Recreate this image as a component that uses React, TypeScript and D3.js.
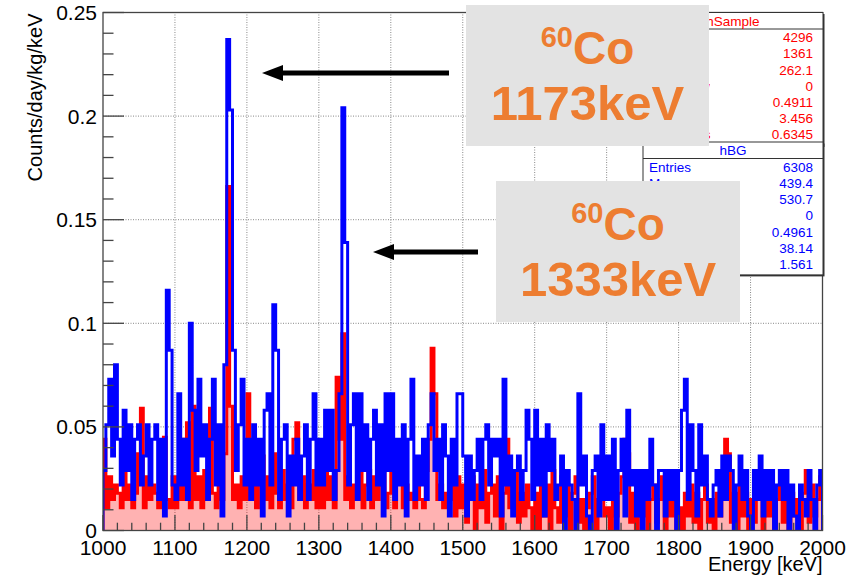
import React from "react";
import * as d3 from "d3";

const W = 846;
const H = 577;

// Energy binning of both spectra (lower bin edges, keV)
const energyMin = 1000;
const energyMax = 2000;
const binWidth = 4;
const binEdges = d3.range(energyMin, energyMax, binWidth);

// Background spectrum hBG, counts/day/kg/keV, one row per 100 keV
const hBG = [
  0.029, 0.051, 0.073, 0.036, 0.080, 0.044, 0.022, 0.058, 0.029, 0.051, 0.015, 0.044, 0.051, 0.022, 0.036, 0.051, 0.022, 0.044, 0.051, 0.015, 0.044, 0.007, 0.116, 0.087, 0.022,
  0.015, 0.066, 0.022, 0.044, 0.015, 0.100, 0.058, 0.029, 0.073, 0.036, 0.051, 0.015, 0.044, 0.073, 0.022, 0.051, 0.007, 0.080, 0.237, 0.203, 0.087, 0.029, 0.051, 0.073, 0.022,
  0.044, 0.015, 0.051, 0.022, 0.044, 0.007, 0.058, 0.066, 0.022, 0.109, 0.087, 0.015, 0.044, 0.051, 0.007, 0.036, 0.022, 0.044, 0.015, 0.036, 0.051, 0.015, 0.044, 0.066, 0.022,
  0.044, 0.022, 0.058, 0.029, 0.058, 0.015, 0.029, 0.066, 0.204, 0.139, 0.022, 0.051, 0.066, 0.015, 0.066, 0.029, 0.051, 0.015, 0.044, 0.058, 0.022, 0.051, 0.007, 0.066, 0.029,
  0.066, 0.015, 0.044, 0.022, 0.051, 0.007, 0.044, 0.073, 0.015, 0.036, 0.022, 0.044, 0.015, 0.051, 0.066, 0.029, 0.044, 0.015, 0.051, 0.036, 0.007, 0.044, 0.022, 0.066, 0.066,
  0.036, 0.007, 0.036, 0.015, 0.029, 0.044, 0.015, 0.044, 0.051, 0.022, 0.044, 0.036, 0.044, 0.007, 0.073, 0.022, 0.036, 0.007, 0.029, 0.036, 0.015, 0.029, 0.058, 0.044, 0.015,
  0.058, 0.022, 0.044, 0.007, 0.051, 0.029, 0.044, 0.015, 0.022, 0.036, 0.000, 0.029, 0.022, 0.015, 0.000, 0.066, 0.022, 0.036, 0.007, 0.000, 0.029, 0.036, 0.007, 0.051, 0.015,
  0.036, 0.015, 0.044, 0.000, 0.029, 0.044, 0.007, 0.058, 0.022, 0.029, 0.007, 0.029, 0.000, 0.029, 0.015, 0.044, 0.022, 0.000, 0.029, 0.029, 0.007, 0.029, 0.015, 0.029, 0.000,
  0.029, 0.058, 0.073, 0.015, 0.051, 0.029, 0.007, 0.051, 0.022, 0.036, 0.015, 0.007, 0.022, 0.029, 0.007, 0.036, 0.015, 0.036, 0.029, 0.000, 0.022, 0.036, 0.015, 0.029, 0.007,
  0.000, 0.029, 0.015, 0.036, 0.007, 0.029, 0.015, 0.029, 0.000, 0.022, 0.029, 0.015, 0.029, 0.000, 0.022, 0.007, 0.000, 0.022, 0.015, 0.007, 0.029, 0.015, 0.000, 0.022, 0.029,
];

// Sample spectrum hSample, counts/day/kg/keV, one row per 100 keV
const hSample = [
  0.044, 0.011, 0.026, 0.015, 0.022, 0.018, 0.011, 0.029, 0.015, 0.022, 0.011, 0.018, 0.037, 0.059, 0.011, 0.026, 0.015, 0.022, 0.018, 0.011, 0.026, 0.045, 0.015, 0.011, 0.026,
  0.011, 0.026, 0.015, 0.044, 0.052, 0.011, 0.060, 0.015, 0.026, 0.011, 0.029, 0.015, 0.059, 0.018, 0.011, 0.026, 0.015, 0.037, 0.166, 0.060, 0.015, 0.022, 0.011, 0.026, 0.015,
  0.066, 0.015, 0.026, 0.011, 0.029, 0.036, 0.015, 0.026, 0.011, 0.037, 0.018, 0.011, 0.029, 0.015, 0.022, 0.011, 0.044, 0.052, 0.015, 0.026, 0.011, 0.022, 0.015, 0.029, 0.011,
  0.022, 0.011, 0.029, 0.015, 0.026, 0.011, 0.074, 0.044, 0.095, 0.015, 0.026, 0.011, 0.022, 0.015, 0.037, 0.011, 0.022, 0.029, 0.011, 0.026, 0.015, 0.022, 0.044, 0.011, 0.018,
  0.029, 0.011, 0.026, 0.037, 0.011, 0.022, 0.015, 0.018, 0.011, 0.026, 0.015, 0.011, 0.029, 0.044, 0.088, 0.066, 0.015, 0.022, 0.011, 0.018, 0.015, 0.022, 0.007, 0.026, 0.011,
  0.022, 0.004, 0.018, 0.026, 0.000, 0.022, 0.011, 0.029, 0.004, 0.018, 0.022, 0.007, 0.026, 0.000, 0.018, 0.044, 0.011, 0.022, 0.029, 0.004, 0.018, 0.007, 0.022, 0.011, 0.000,
  0.018, 0.000, 0.026, 0.007, 0.022, 0.000, 0.029, 0.011, 0.004, 0.026, 0.007, 0.022, 0.000, 0.018, 0.026, 0.004, 0.015, 0.000, 0.011, 0.018, 0.026, 0.000, 0.015, 0.029, 0.007,
  0.011, 0.000, 0.022, 0.007, 0.018, 0.026, 0.044, 0.037, 0.004, 0.018, 0.000, 0.015, 0.007, 0.022, 0.000, 0.015, 0.022, 0.004, 0.015, 0.026, 0.000, 0.018, 0.007, 0.015, 0.000,
  0.011, 0.000, 0.018, 0.007, 0.022, 0.004, 0.018, 0.000, 0.015, 0.022, 0.004, 0.015, 0.000, 0.018, 0.007, 0.022, 0.044, 0.037, 0.004, 0.018, 0.000, 0.022, 0.007, 0.018, 0.000,
  0.015, 0.004, 0.018, 0.022, 0.000, 0.015, 0.007, 0.018, 0.000, 0.015, 0.022, 0.004, 0.015, 0.000, 0.018, 0.007, 0.015, 0.000, 0.018, 0.029, 0.004, 0.022, 0.007, 0.015, 0.026,
];

// Axis ticks
const xMajorTicks = [1000, 1100, 1200, 1300, 1400, 1500, 1600, 1700, 1800, 1900, 2000];
const xMinorStep = 20;
const yMajorTicks = [0, 0.05, 0.1, 0.15, 0.2, 0.25];
const yTickLabels = ["0", "0.05", "0.1", "0.15", "0.2", "0.25"];
const yMinorStep = 0.01;

const xTitle = "Energy [keV]";
const yTitle = "Counts/day/kg/keV";

// Statistics boxes
const statLabels = ["Entries", "Mean", "Std Dev", "Underflow", "Overflow", "Integral", "Skewness"];
const sampleName = "hSample";
const sampleStats = ["4296", "1361", "262.1", "0", "0.4911", "3.456", "0.6345"];
const bgName = "hBG";
const bgStats = ["6308", "439.4", "530.7", "0", "0.4961", "38.14", "1.561"];

// Peak annotations
const peakIsotope = ["60", "60"];
const peakElement = ["Co", "Co"];
const peakEnergyText = ["1173keV", "1333keV"];

const FONT = "'Liberation Sans', Arial, Helvetica, sans-serif";
const ORANGE = "#ED7D31";

const x = d3.scaleLinear().domain([energyMin, energyMax]).range([103, 822.5]);
const y = d3.scaleLinear().domain([0, 0.25]).range([530.5, 12.5]);

type Pt = [number, number];

function stepPoints(vals: number[]): Pt[] {
  const pts: Pt[] = [[energyMin, 0]];
  vals.forEach((v, i) => pts.push([binEdges[i], v]));
  pts.push([energyMax, vals[vals.length - 1]]);
  pts.push([energyMax, 0]);
  return pts;
}

const stepLine = d3
  .line<Pt>()
  .x((d) => x(d[0]))
  .y((d) => y(d[1]))
  .curve(d3.curveStepAfter);

const stepArea = d3
  .area<Pt>()
  .x((d) => x(d[0]))
  .y0(y(0))
  .y1((d) => y(d[1]))
  .curve(d3.curveStepAfter);

function StatBox(props: {
  top: number;
  name: string;
  values: string[];
  color: string;
}) {
  const left = 643;
  const right = 823;
  const titleH = 16.5;
  const rowH = 16.2;
  const h = titleH + rowH * props.values.length + 3;
  return (
    <g fontFamily={FONT} fontSize={13.5}>
      <rect x={left + 1.5} y={props.top + 1.5} width={right - left} height={h} fill="#333" />
      <rect x={left} y={props.top} width={right - left} height={h} fill="#fff" stroke="#333" strokeWidth={1} />
      <line x1={left} x2={right} y1={props.top + titleH} y2={props.top + titleH} stroke="#333" strokeWidth={1} />
      <text x={(left + right) / 2} y={props.top + titleH - 3.5} textAnchor="middle" fill={props.color}>
        {props.name}
      </text>
      {props.values.map((v, i) => (
        <g key={i}>
          <text x={left + 6} y={props.top + titleH + rowH * (i + 1) - 3} fill={props.color}>
            {statLabels[i]}
          </text>
          <text x={right - 10} y={props.top + titleH + rowH * (i + 1) - 3} textAnchor="end" fill={props.color}>
            {v}
          </text>
        </g>
      ))}
    </g>
  );
}

function PeakLabel(props: { i: number; left: number; top: number; width: number; height: number }) {
  const cx = props.left + props.width / 2;
  return (
    <g fontFamily={FONT} fontWeight="bold" fill={ORANGE}>
      <rect x={props.left} y={props.top} width={props.width} height={props.height} fill="#e3e3e3" />
      <text x={cx} y={props.top + 59} textAnchor="middle">
        <tspan fontSize={29} dy={-17}>
          {peakIsotope[props.i]}
        </tspan>
        <tspan fontSize={46} dy={17}>
          {peakElement[props.i]}
        </tspan>
      </text>
      <text x={cx} y={props.top + 115} textAnchor="middle" fontSize={49}>
        {peakEnergyText[props.i]}
      </text>
    </g>
  );
}

function Arrow(props: { fromX: number; toX: number; yPos: number }) {
  const head = 21;
  const half = 8;
  return (
    <g>
      <line x1={props.fromX} x2={props.toX + head - 2} y1={props.yPos} y2={props.yPos} stroke="#000" strokeWidth={5} />
      <path
        d={`M${props.toX},${props.yPos} L${props.toX + head},${props.yPos - half} L${props.toX + head},${props.yPos + half} Z`}
        fill="#000"
      />
    </g>
  );
}

export default function App() {
  const [x0, x1] = x.range();
  const [y0, y1] = y.range();
  const xMinor = d3.range(energyMin, energyMax + 0.001, xMinorStep);
  const yMinor = d3.range(0, 0.25 + 1e-9, yMinorStep);
  const bgPts = stepPoints(hBG);
  const samplePts = stepPoints(hSample);

  return (
    <svg
      width={W}
      height={H}
      viewBox={`0 0 ${W} ${H}`}
      style={{ position: "absolute", left: 0, top: 0, background: "#fff" }}
    >
      <defs>
        <clipPath id="frameClip">
          <rect x={x0} y={y1} width={x1 - x0} height={y0 - y1} />
        </clipPath>
      </defs>
      <rect width={W} height={H} fill="#fff" />

      {/* grid */}
      <g stroke="#888" strokeWidth={1} strokeDasharray="1,1.5">
        {xMajorTicks.slice(1, -1).map((t) => (
          <line key={t} x1={x(t)} x2={x(t)} y1={y0} y2={y1} />
        ))}
        {yMajorTicks.slice(1, -1).map((t) => (
          <line key={t} x1={x0} x2={x1} y1={y(t)} y2={y(t)} />
        ))}
      </g>

      {/* spectra */}
      <g clipPath="url(#frameClip)">
        <path d={stepArea(samplePts) ?? ""} fill="rgba(255,0,0,0.3)" stroke="none" />
        <path d={stepLine(samplePts) ?? ""} fill="none" stroke="#ff0000" strokeWidth={3} strokeLinejoin="miter" />
        <path d={stepLine(bgPts) ?? ""} fill="none" stroke="#0000ff" strokeWidth={3} strokeLinejoin="miter" />
      </g>

      {/* frame and axes */}
      <rect x={x0} y={y1} width={x1 - x0} height={y0 - y1} fill="none" stroke="#444" strokeWidth={1.3} />
      <g stroke="#444" strokeWidth={1.3}>
        {xMinor.map((t) => {
          const major = Math.abs(t % 100) < 1e-6;
          return <line key={"xm" + t} x1={x(t)} x2={x(t)} y1={y0} y2={y0 - (major ? 15.5 : 7.8)} />;
        })}
        {yMinor.map((t, i) => {
          const major = i % 5 === 0;
          return <line key={"ym" + i} x1={x0} x2={x0 + (major ? 21 : 10.5)} y1={y(t)} y2={y(t)} />;
        })}
      </g>
      <g fontFamily={FONT} fontSize={21} fill="#000">
        {xMajorTicks.map((t) => (
          <text key={t} x={x(t)} y={555} textAnchor="middle">
            {t}
          </text>
        ))}
        {yMajorTicks.map((t, i) => (
          <text key={t} x={97} y={y(t) + 7.5} textAnchor="end">
            {yTickLabels[i]}
          </text>
        ))}
      </g>
      <text x={x1} y={571} textAnchor="end" fontFamily={FONT} fontSize={20} fill="#000">
        {xTitle}
      </text>
      <text
        transform={`translate(42,${y1 + 1}) rotate(-90)`}
        textAnchor="end"
        fontFamily={FONT}
        fontSize={20}
        fill="#000"
      >
        {yTitle}
      </text>

      {/* statistics boxes */}
      <StatBox top={12.5} name={sampleName} values={sampleStats} color="#ff0000" />
      <StatBox top={142} name={bgName} values={bgStats} color="#0000ff" />

      {/* annotations */}
      <PeakLabel i={0} left={466} top={5} width={243} height={141} />
      <PeakLabel i={1} left={496} top={181} width={244} height={141} />
      <Arrow fromX={449} toX={262} yPos={73} />
      <Arrow fromX={478} toX={373} yPos={252} />
    </svg>
  );
}
